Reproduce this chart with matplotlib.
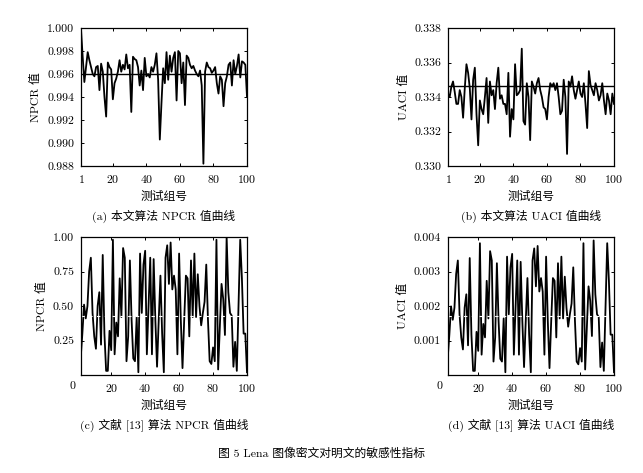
import numpy as np
import matplotlib
matplotlib.use("Agg")
import matplotlib.pyplot as plt

plt.rcParams['font.family'] = ['cmr10', 'Noto Sans CJK SC']
plt.rcParams['axes.formatter.use_mathtext'] = True
plt.rcParams['axes.unicode_minus'] = False

# 测试组号
groups = np.arange(1, 101)

# (a) 本文算法 NPCR
npcr_ours = [
    0.9999, 0.9975, 0.9953, 0.9966, 0.9979, 0.9972, 0.9966, 0.9960, 0.9958, 0.9966,
    0.9967, 0.9946, 0.9969, 0.9962, 0.9940, 0.9923, 0.9970, 0.9966, 0.9964, 0.9938,
    0.9952, 0.9956, 0.9962, 0.9972, 0.9962, 0.9968, 0.9964, 0.9977, 0.9965, 0.9968,
    0.9927, 0.9975, 0.9973, 0.9972, 0.9966, 0.9950, 0.9963, 0.9946, 0.9974, 0.9958,
    0.9960, 0.9957, 0.9966, 0.9962, 0.9968, 0.9978, 0.9955, 0.9903, 0.9935, 0.9965,
    0.9952, 0.9979, 0.9955, 0.9976, 0.9962, 0.9974, 0.9979, 0.9937, 0.9980, 0.9978,
    0.9952, 0.9970, 0.9933, 0.9976, 0.9974, 0.9968, 0.9965, 0.9967, 0.9963, 0.9960,
    0.9958, 0.9963, 0.9950, 0.9882, 0.9962, 0.9970, 0.9966, 0.9965, 0.9961, 0.9963,
    0.9966, 0.9952, 0.9943, 0.9958, 0.9955, 0.9932, 0.9952, 0.9958, 0.9968, 0.9970,
    0.9950, 0.9972, 0.9960, 0.9967, 0.9977, 0.9957, 0.9971, 0.9970, 0.9968, 0.9940,
]
npcr_ours_ref = 0.9960

# (b) 本文算法 UACI
uaci_ours = [
    0.3342, 0.3340, 0.3346, 0.3349, 0.3343, 0.3336, 0.3336, 0.3344, 0.3340, 0.3328,
    0.3345, 0.3359, 0.3354, 0.3345, 0.3327, 0.3350, 0.3357, 0.3330, 0.3312, 0.3338,
    0.3333, 0.3330, 0.3340, 0.3351, 0.3325, 0.3349, 0.3341, 0.3344, 0.3333, 0.3348,
    0.3357, 0.3339, 0.3341, 0.3336, 0.3336, 0.3330, 0.3354, 0.3317, 0.3333, 0.3327,
    0.3359, 0.3341, 0.3342, 0.3344, 0.3368, 0.3326, 0.3324, 0.3348, 0.3340, 0.3315,
    0.3349, 0.3346, 0.3342, 0.3348, 0.3351, 0.3344, 0.3340, 0.3334, 0.3333, 0.3327,
    0.3340, 0.3348, 0.3346, 0.3348, 0.3344, 0.3348, 0.3340, 0.3330, 0.3332, 0.3350,
    0.3340, 0.3307, 0.3349, 0.3346, 0.3352, 0.3344, 0.3339, 0.3344, 0.3349, 0.3342,
    0.3340, 0.3348, 0.3336, 0.3322, 0.3355, 0.3347, 0.3344, 0.3341, 0.3348, 0.3344,
    0.3338, 0.3341, 0.3348, 0.3338, 0.3330, 0.3342, 0.3338, 0.3330, 0.3342, 0.3336,
]
uaci_ours_ref = 0.33463

# (c) 文献[13] NPCR
npcr_ref13 = [
    0.08, 0.12, 0.30, 0.51, 0.41, 0.50, 0.75, 0.85, 0.45, 0.28,
    0.19, 0.50, 0.60, 0.22, 0.87, 0.30, 0.03, 0.03, 0.32, 0.18,
    0.98, 0.15, 0.38, 0.28, 0.70, 0.42, 0.92, 0.85, 0.10, 0.28,
    0.83, 0.40, 0.12, 0.10, 0.42, 0.02, 0.88, 0.45, 0.80, 0.90,
    0.15, 0.50, 0.85, 0.15, 0.84, 0.40, 0.06, 0.40, 0.72, 0.30,
    0.02, 0.85, 0.94, 0.66, 0.96, 0.62, 0.72, 0.62, 0.15, 0.88,
    0.40, 0.05, 0.40, 0.72, 0.70, 0.28, 0.83, 0.42, 0.88, 0.42,
    0.73, 0.50, 0.36, 0.45, 0.53, 0.80, 0.40, 0.10, 0.08, 0.20,
    0.10, 0.98, 0.04, 0.35, 0.66, 0.55, 0.29, 1.00, 0.60, 0.45,
    0.43, 0.06, 0.24, 0.03, 0.50, 0.98, 0.70, 0.30, 0.30, 0.02,
]
npcr_ref13_line = 0.43

# (d) 文献[13] UACI
uaci_ref13 = [
    0.00031, 0.00047, 0.00117, 0.00199, 0.00160, 0.00195, 0.00293, 0.00332, 0.00176, 0.00109,
    0.00074, 0.00195, 0.00234, 0.00086, 0.00339, 0.00117, 0.00012, 0.00012, 0.00125, 0.00070,
    0.00382, 0.00059, 0.00148, 0.00109, 0.00273, 0.00164, 0.00359, 0.00332, 0.00039, 0.00109,
    0.00324, 0.00156, 0.00047, 0.00039, 0.00164, 0.00008, 0.00343, 0.00176, 0.00312, 0.00351,
    0.00059, 0.00195, 0.00332, 0.00059, 0.00328, 0.00156, 0.00023, 0.00156, 0.00281, 0.00117,
    0.00008, 0.00332, 0.00367, 0.00257, 0.00374, 0.00242, 0.00281, 0.00242, 0.00059, 0.00343,
    0.00156, 0.00020, 0.00156, 0.00281, 0.00273, 0.00109, 0.00324, 0.00164, 0.00343, 0.00164,
    0.00285, 0.00195, 0.00140, 0.00176, 0.00207, 0.00312, 0.00156, 0.00039, 0.00031, 0.00078,
    0.00039, 0.00382, 0.00016, 0.00137, 0.00257, 0.00215, 0.00113, 0.00390, 0.00234, 0.00176,
    0.00168, 0.00023, 0.00094, 0.00012, 0.00195, 0.00382, 0.00273, 0.00117, 0.00117, 0.00008,
]
uaci_ref13_line = 0.0017

fig = plt.figure(figsize=(6.43, 4.73), dpi=100)

W, H = 643, 473
def box(x0, x1, y0, y1):
    return [x0 / W, 1 - y1 / H, (x1 - x0) / W, (y1 - y0) / H]

ax_a = fig.add_axes(box(81, 247, 28, 166))
ax_b = fig.add_axes(box(448, 614, 28, 166))
ax_c = fig.add_axes(box(81, 247, 237, 375))
ax_d = fig.add_axes(box(448, 614, 237, 375))

fs = 8.5
lw = 1.3

def style(ax):
    ax.tick_params(direction="in", top=True, right=True, length=2.5, width=0.7,
                   labelsize=fs, pad=5)
    for s in ax.spines.values():
        s.set_linewidth(0.9)
    ax.set_xlabel("测试组号", fontsize=fs, labelpad=4)

# (a)
ax_a.plot(groups, npcr_ours, color="black", lw=lw)
ax_a.axhline(npcr_ours_ref, color="black", lw=1.0)
ax_a.set_xlim(1, 100)
ax_a.set_ylim(0.988, 1.000)
ax_a.set_xticks([1, 20, 40, 60, 80, 100])
ax_a.set_yticks(np.arange(0.988, 1.0001, 0.002))
ax_a.set_yticklabels(["0.988", "0.990", "0.992", "0.994", "0.996", "0.998", "1.000"])
ax_a.set_ylabel("NPCR 值", fontsize=fs)
style(ax_a)

# (b)
ax_b.plot(groups, uaci_ours, color="black", lw=lw)
ax_b.axhline(uaci_ours_ref, color="black", lw=1.0)
ax_b.set_xlim(1, 100)
ax_b.set_ylim(0.330, 0.338)
ax_b.set_xticks([1, 20, 40, 60, 80, 100])
ax_b.set_yticks(np.arange(0.330, 0.3381, 0.002))
ax_b.set_yticklabels(["0.330", "0.332", "0.334", "0.336", "0.338"])
ax_b.set_ylabel("UACI 值", fontsize=fs)
style(ax_b)

# (c)
ax_c.plot(groups, npcr_ref13, color="black", lw=lw)
ax_c.axhline(npcr_ref13_line, color="white", lw=0.8, ls=(0, (3, 4)))
ax_c.set_xlim(2.2, 100)
ax_c.set_ylim(0, 1.0)
ax_c.set_xticks([20, 40, 60, 80, 100])
ax_c.set_yticks([0.25, 0.50, 0.75, 1.00])
ax_c.set_yticklabels(["0.25", "0.50", "0.75", "1.00"])
ax_c.set_ylabel("NPCR 值", fontsize=fs)
style(ax_c)

# (d)
ax_d.plot(groups, uaci_ref13, color="black", lw=lw)
ax_d.axhline(uaci_ref13_line, color="white", lw=0.8, ls=(0, (3, 4)))
ax_d.set_xlim(2.2, 100)
ax_d.set_ylim(0, 0.004)
ax_d.set_xticks([20, 40, 60, 80, 100])
ax_d.set_yticks([0.001, 0.002, 0.003, 0.004])
ax_d.set_yticklabels(["0.001", "0.002", "0.003", "0.004"])
ax_d.set_ylabel("UACI 值", fontsize=fs)
style(ax_d)

# 左端 "0" 标签在坐标框外
for ax in (ax_c, ax_d):
    ax.text(-3, -0.05, "0", transform=ax.get_xaxis_transform(),
            ha="center", va="top", fontsize=fs)

# 子图标题
captions = [
    (ax_a, "(a) 本文算法 NPCR 值曲线"),
    (ax_b, "(b) 本文算法 UACI 值曲线"),
    (ax_c, "(c) 文献 [13] 算法 NPCR 值曲线"),
    (ax_d, "(d) 文献 [13] 算法 UACI 值曲线"),
]
for ax, t in captions:
    ax.text(0.5, -0.32, t, transform=ax.transAxes, ha="center", va="top", fontsize=fs)

fig.text(0.5, 1 - 453 / H, "图 5 Lena 图像密文对明文的敏感性指标",
         ha="center", va="center", fontsize=fs)

fig.savefig("out.png", dpi=100)
